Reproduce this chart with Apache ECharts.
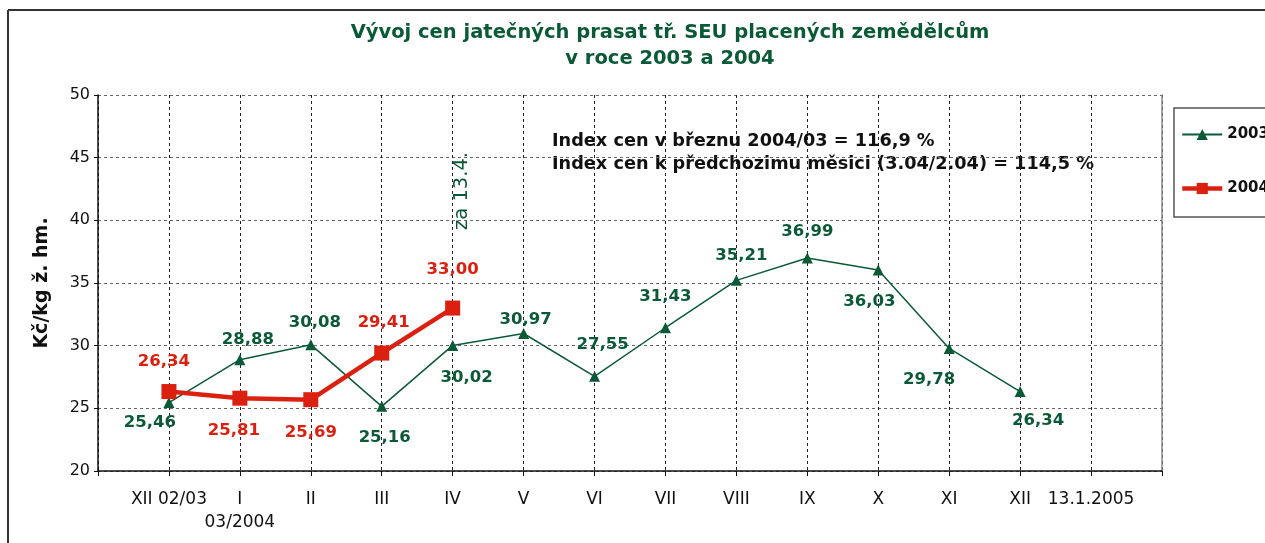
<!DOCTYPE html>
<html>
<head>
<meta charset="utf-8">
<script src="https://cdn.jsdelivr.net/npm/echarts@6/dist/echarts.min.js"></script>
<style>
html, body { margin: 0; padding: 0; background: #fff; }
#main { width: 1265px; height: 543px; }
</style>
</head>
<body>
<div id="main"></div>
<script>
// měsíce na ose x (první a poslední kategorie jsou prázdné okraje)
const months = ['XII 02/03', 'I\n03/2004', 'II', 'III', 'IV', 'V', 'VI', 'VII', 'VIII', 'IX', 'X', 'XI', 'XII', '13.1.2005']
const prices2003 = [25.46, 28.88, 30.08, 25.16, 30.02, 30.97, 27.55, 31.43, 35.21, 36.99, 36.03, 29.78, 26.34]
const prices2004 = [26.34, 25.81, 25.69, 29.41, 33.00]

// posun popisků od bodu [dx, dy]
const offsets2003 = [[-19, 20], [8, -20], [4, -22], [3, 31], [14, 32], [2, -14], [8, -32], [0, -31], [5, -25], [0, -26], [-9, 32], [-20, 31], [18, 29]]
const offsets2004 = [[-5, -30], [-6, 33], [0, 33], [2, -30], [0, -38]]

const green = '#0b5a37'
const red = '#dc2010'

const categories = [''].concat(months, [''])

function buildData(values, offsets) {
    const out = ['-']
    values.forEach(function (v, i) {
        out.push({ value: v, label: { offset: offsets[i] } })
    })
    while (out.length < categories.length) out.push('-')
    return out
}

const fmt = function (p) {
    return p.value.toFixed(2).replace('.', ',')
}

const myChart = echarts.init(document.getElementById('main'))

const option = {
    backgroundColor: '#fff',
    animation: false,
    textStyle: { fontFamily: 'DejaVu Sans' },
    title: {
        text: 'Vývoj cen jatečných prasat tř. SEU placených zemědělcům\nv roce 2003 a 2004',
        left: 665,
        top: 15,
        textAlign: 'center',
        textStyle: {
            fontFamily: 'DejaVu Sans',
            fontSize: 19.5,
            fontWeight: 'bold',
            color: green,
            lineHeight: 26
        }
    },
    legend: {
        orient: 'vertical',
        left: 1180,
        top: 127,
        padding: 0,
        itemGap: 39,
        itemWidth: 40,
        itemHeight: 14,
        data: [
            { name: '2003' },
            { name: '2004', lineStyle: { width: 4.5 } }
        ],
        textStyle: { fontSize: 15, fontWeight: 'bold', color: '#111' }
    },
    grid: { left: 98, right: 103, top: 95, bottom: 72 },
    xAxis: {
        type: 'category',
        boundaryGap: false,
        data: categories,
        axisLine: { lineStyle: { color: '#111', width: 1.5 } },
        axisTick: { show: true, length: 5, interval: 0, lineStyle: { color: '#111' } },
        axisLabel: { interval: 0, margin: 17, fontSize: 17, color: '#111', lineHeight: 23 },
        splitLine: { show: true, interval: 0, lineStyle: { color: '#222', type: [3, 3], width: 1 } }
    },
    yAxis: [{
        type: 'value',
        min: 20,
        max: 50,
        interval: 5,
        name: 'Kč/kg ž. hm.',
        nameLocation: 'middle',
        nameGap: 46,
        nameTextStyle: { fontSize: 19, fontWeight: 'bold', color: '#111' },
        axisLine: { show: true, lineStyle: { color: '#111', width: 1.5 } },
        axisTick: { show: true, length: 4, lineStyle: { color: '#111' } },
        axisLabel: { fontSize: 16, color: '#111', margin: 8 },
        splitLine: { lineStyle: { color: '#666', type: [3, 3], width: 1 } }
    }, {
        type: 'value',
        position: 'right',
        min: 20,
        max: 50,
        interval: 5,
        axisLine: { show: true, lineStyle: { color: '#888', width: 1.5 } },
        axisTick: { show: false },
        axisLabel: { show: false },
        splitLine: { show: false }
    }],
    series: [{
        name: '2003',
        type: 'line',
        data: buildData(prices2003, offsets2003),
        symbol: 'triangle',
        symbolSize: 11,
        color: green,
        lineStyle: { color: green, width: 1.5 },
        itemStyle: { color: green },
        label: {
            show: true,
            position: 'inside',
            formatter: fmt,
            fontSize: 16.5,
            fontWeight: 'bold',
            color: green
        }
    }, {
        name: '2004',
        type: 'line',
        data: buildData(prices2004, offsets2004),
        symbol: 'rect',
        symbolSize: 15,
        color: red,
        lineStyle: { color: red, width: 4.5 },
        itemStyle: { color: red },
        label: {
            show: true,
            position: 'inside',
            formatter: fmt,
            fontSize: 16.5,
            fontWeight: 'bold',
            color: red
        }
    }],
    graphic: [
        // rámeček grafu
        { type: 'line', shape: { x1: 8, y1: 10, x2: 1265, y2: 10 }, style: { stroke: '#333', lineWidth: 2 } },
        { type: 'line', shape: { x1: 8, y1: 10, x2: 8, y2: 543 }, style: { stroke: '#333', lineWidth: 2 } },
        // rámeček legendy
        { type: 'rect', shape: { x: 1174, y: 108, width: 120, height: 109 }, style: { fill: 'none', stroke: '#555', lineWidth: 1.5 } },
        {
            type: 'text', left: 552, top: 130,
            style: {
                text: 'Index cen v březnu 2004/03 = 116,9 %\nIndex cen k předchozimu měsici (3.04/2.04) = 114,5 %',
                font: 'bold 17.7px "DejaVu Sans"',
                fill: '#111',
                lineHeight: 23
            }
        },
        {
            type: 'text', x: 462, y: 191, rotation: Math.PI / 2,
            style: {
                text: 'za 13.4.',
                font: '19.5px "DejaVu Sans"',
                fill: green,
                align: 'center',
                verticalAlign: 'middle'
            }
        }
    ]
}

myChart.setOption(option)
</script>
</body>
</html>
